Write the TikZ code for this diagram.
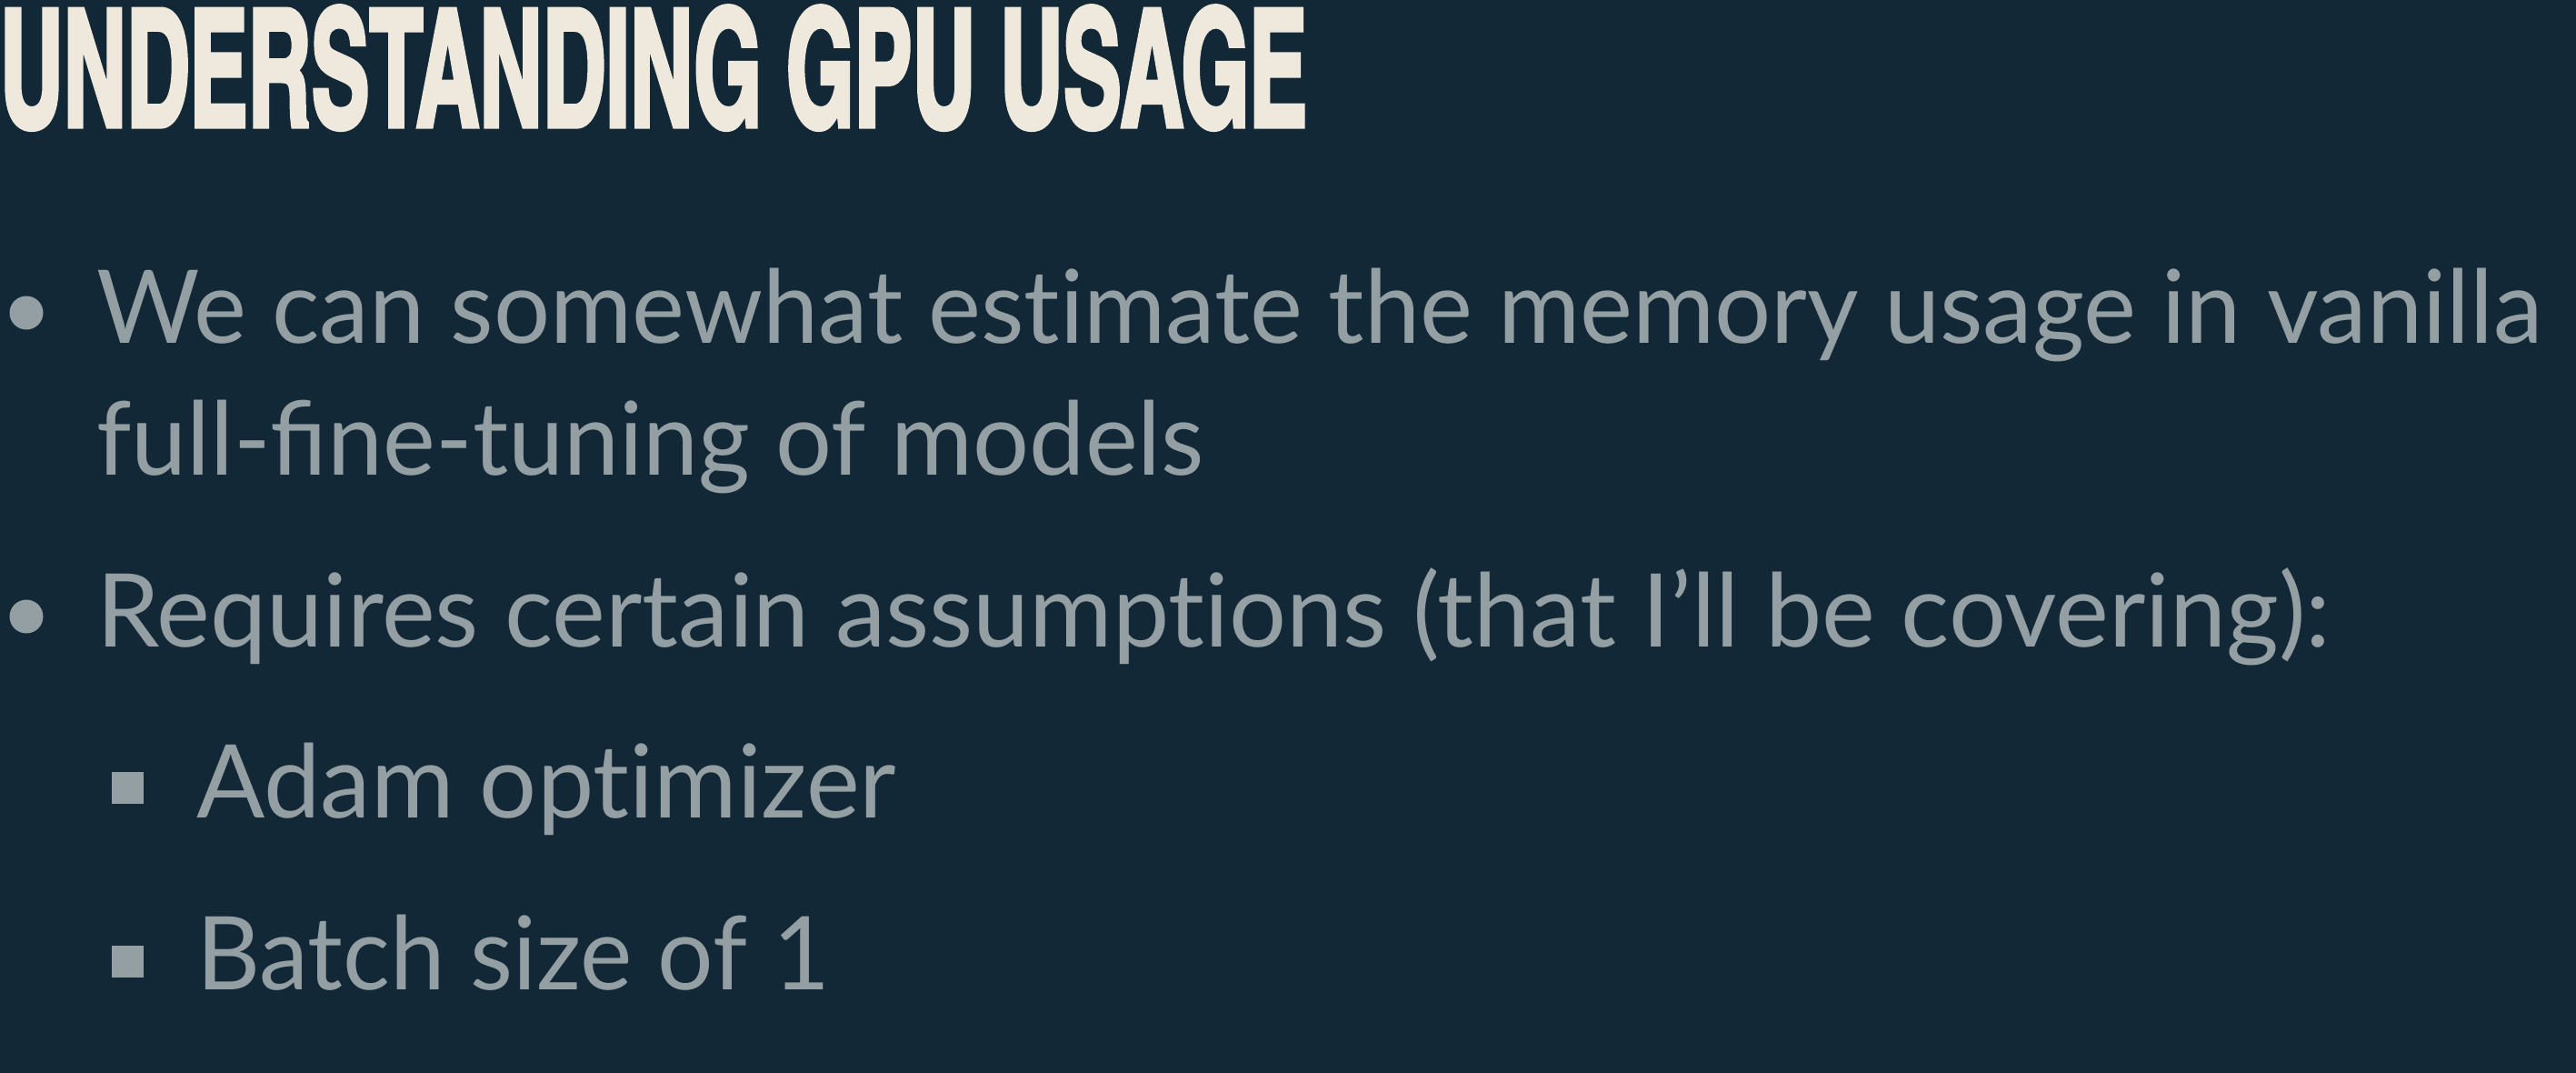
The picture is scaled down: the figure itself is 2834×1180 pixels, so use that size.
\documentclass[tikz,border=0pt]{standalone}
\usepackage{fontspec}
\usepackage{graphicx}
\setmainfont{Lato}[Ligatures=NoCommon]
\newfontfamily\titlefont{texgyreheroscn-bold}[Extension=.otf,FakeBold=3]
\definecolor{bgc}{HTML}{122836}
\definecolor{txtc}{HTML}{939FA3}
\definecolor{titlec}{HTML}{EFE8DC}
\tikzset{
  body/.style={anchor=base west, inner sep=0pt, text=txtc, font=\fontsize{112}{134}\selectfont},
  dotbullet/.style={circle, fill=txtc, minimum size=37pt, inner sep=0pt},
  sqbullet/.style={rectangle, fill=txtc, minimum size=35pt, inner sep=0pt},
}
\begin{document}
\begin{tikzpicture}[x=1pt,y=-1pt]
\fill[bgc] (0,0) rectangle (2834,1180);
\useasboundingbox (0,0) rectangle (2834,1180);
\node[anchor=base west, inner sep=0pt, text=titlec] (title) at (0,139)
  {\resizebox{1438pt}{132pt}{\titlefont UNDERSTANDING GPU USAGE}};
\node[dotbullet] (b1) at (29,344) {};
\node[body] (l1) at (106,377) {\scalebox{0.979}[1]{We can somewhat estimate the memory usage in vanilla}};
\node[body] (l2) at (106,522) {\scalebox{0.9767}[1]{full-ﬁne-tuning of models}};
\node[dotbullet] (b2) at (29,678) {};
\node[body] (l3) at (106,711) {\scalebox{0.9927}[1]{Requires certain assumptions (that I’ll be covering):}};
\node[sqbullet] (s1) at (140,866) {};
\node[body] (l4) at (216,899) {\scalebox{0.9935}[1]{Adam optimizer}};
\node[sqbullet] (s2) at (140,1057) {};
\node[body] (l5) at (216,1088) {\scalebox{0.969}[1]{Batch size of 1}};
\end{tikzpicture}
\end{document}
